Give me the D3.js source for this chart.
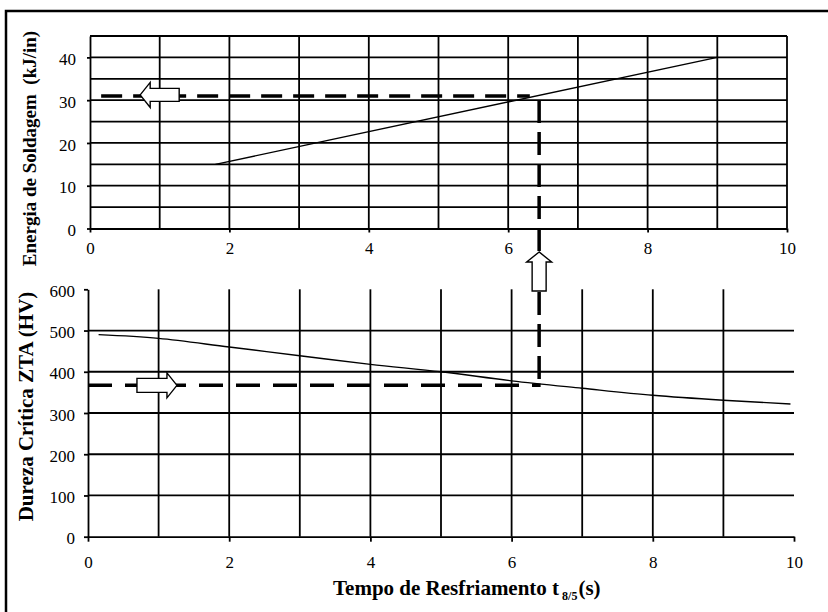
<!DOCTYPE html>
<html>
<head>
<meta charset="utf-8">
<script src="https://cdn.jsdelivr.net/npm/d3@7"></script>
<style>
  html, body { margin: 0; padding: 0; background: #fff; }
  svg { display: block; }
  text { font-family: "Liberation Serif", "Times New Roman", serif; fill: #000; }
</style>
</head>
<body>
<script>
// ---------- data ----------
const xTickValues = [0, 2, 4, 6, 8, 10];
const xGridValues = [1, 2, 3, 4, 5, 6, 7, 8, 9, 10];
const energyTicks = [0, 10, 20, 30, 40];
const energyGrid = [5, 10, 15, 20, 25, 30, 35, 40, 45];
const hardnessTicks = [0, 100, 200, 300, 400, 500, 600];
const hardnessGrid = [100, 200, 300, 400, 500];

// Energia de Soldagem vs tempo (straight line)
const energyTime = [1.8, 9];
const energyValue = [15, 40];

// Dureza crítica vs tempo
const hardnessTime = [0.15, 1, 2, 3, 4, 5, 6, 7, 8, 9, 9.95];
const hardnessValue = [490, 481, 460, 439, 418, 400, 378, 360, 343, 331, 322];

// guide (dashed) lines
const guideEnergy = 31;
const guideHardness = 367;
const guideTime = 6.39;
const guideTopStart = 0.16;
const guideTopEnd = 6.31;

const W = 828, H = 612;
const svg = d3.select("body").append("svg").attr("width", W).attr("height", H);

// outer frame (only top and left visible)
svg.append("path").attr("d", `M6,${H + 5} V11 H${W + 5}`)
  .attr("fill", "none").attr("stroke", "#000").attr("stroke-width", 2.5);

// ---------- scales ----------
const xTop = d3.scaleLinear().domain([0, 10]).range([90, 787]);
const yTop = d3.scaleLinear().domain([0, 45]).range([228.5, 36]);
const xBot = d3.scaleLinear().domain([0, 10]).range([88, 794]);
const yBot = d3.scaleLinear().domain([0, 600]).range([536.7, 289.3]);

const gridW = 1.8;

// ---------- top chart ----------
const gTop = svg.append("g");
gTop.selectAll("line.hg").data(energyGrid).join("line")
  .attr("x1", xTop(0)).attr("x2", xTop(10))
  .attr("y1", d => yTop(d)).attr("y2", d => yTop(d))
  .attr("stroke", "#000").attr("stroke-width", gridW);
gTop.selectAll("line.vg").data(xGridValues).join("line")
  .attr("x1", d => xTop(d)).attr("x2", d => xTop(d))
  .attr("y1", yTop(0)).attr("y2", yTop(45))
  .attr("stroke", "#000").attr("stroke-width", gridW);

const axTopY = gTop.append("g").attr("transform", `translate(${xTop(0)},0)`)
  .call(d3.axisLeft(yTop).tickValues(energyTicks).tickSize(3).tickPadding(11).tickSizeOuter(0));
const axTopX = gTop.append("g").attr("transform", `translate(0,${yTop(0)})`)
  .call(d3.axisBottom(xTop).tickValues(xTickValues).tickSize(4).tickPadding(9.5).tickSizeOuter(0));

// ---------- bottom chart ----------
const gBot = svg.append("g");
gBot.selectAll("line.hg").data(hardnessGrid).join("line")
  .attr("x1", xBot(0)).attr("x2", xBot(10))
  .attr("y1", d => yBot(d)).attr("y2", d => yBot(d))
  .attr("stroke", "#000").attr("stroke-width", gridW);
gBot.selectAll("line.vg").data(xGridValues.filter(d => d < 10)).join("line")
  .attr("x1", d => xBot(d)).attr("x2", d => xBot(d))
  .attr("y1", yBot(0)).attr("y2", yBot(600))
  .attr("stroke", "#000").attr("stroke-width", gridW);

const axBotY = gBot.append("g").attr("transform", `translate(${xBot(0)},0)`)
  .call(d3.axisLeft(yBot).tickValues(hardnessTicks).tickSize(4).tickPadding(9).tickSizeOuter(0));
const axBotX = gBot.append("g").attr("transform", `translate(0,${yBot(0)})`)
  .call(d3.axisBottom(xBot).tickValues(xTickValues).tickSize(5).tickPadding(14).tickSizeOuter(0));

[axTopY, axTopX, axBotY, axBotX].forEach(a => {
  a.attr("font-family", null);
  a.select(".domain").attr("stroke", "#000").attr("stroke-width", gridW);
  a.selectAll(".tick line").attr("stroke", "#000").attr("stroke-width", gridW);
  a.selectAll(".tick text").style("font-family", "'Liberation Serif', serif")
    .attr("font-size", 17).attr("fill", "#000");
});
[axTopY, axBotY].forEach(a => a.selectAll(".tick text").attr("dy", "0.42em"));

// ---------- curves ----------
const energyPts = energyTime.map((t, i) => [t, energyValue[i]]);
svg.append("path").datum(energyPts)
  .attr("d", d3.line().x(d => xTop(d[0])).y(d => yTop(d[1])))
  .attr("fill", "none").attr("stroke", "#000").attr("stroke-width", 1.4);

const hardPts = hardnessTime.map((t, i) => [t, hardnessValue[i]]);
svg.append("path").datum(hardPts)
  .attr("d", d3.line().curve(d3.curveCatmullRom.alpha(0.5)).x(d => xBot(d[0])).y(d => yBot(d[1])))
  .attr("fill", "none").attr("stroke", "#000").attr("stroke-width", 1.4);

// ---------- dashed guides ----------
const dashW = 3.5;
svg.append("line")
  .attr("x1", xTop(guideTopStart)).attr("x2", xTop(guideTopEnd))
  .attr("y1", yTop(guideEnergy)).attr("y2", yTop(guideEnergy))
  .attr("stroke", "#000").attr("stroke-width", dashW).attr("stroke-dasharray", "21,11");
svg.append("line")
  .attr("x1", xBot(guideTime)).attr("x2", xBot(guideTime))
  .attr("y1", yTop(guideEnergy) + 4).attr("y2", yBot(guideHardness))
  .attr("stroke", "#000").attr("stroke-width", dashW).attr("stroke-dasharray", "23,9");
svg.append("line")
  .attr("x1", xBot(0)).attr("x2", xBot(guideTime) + 1.5)
  .attr("y1", yBot(guideHardness)).attr("y2", yBot(guideHardness))
  .attr("stroke", "#000").attr("stroke-width", dashW).attr("stroke-dasharray", "24,13");

// ---------- hollow arrows ----------
function arrowPath(len, headLen, headHalf, shaftHalf) {
  // pointing in +x direction, tip at origin
  return `M0,0 L${-headLen},${-headHalf} L${-headLen},${-shaftHalf} L${-len},${-shaftHalf}
          L${-len},${shaftHalf} L${-headLen},${shaftHalf} L${-headLen},${headHalf} Z`;
}
const arrowStyle = s => s.attr("fill", "#fff").attr("stroke", "#000").attr("stroke-width", 1.4)
  .attr("stroke-linejoin", "miter");

// left-pointing arrow on energy guide
svg.append("path").attr("d", arrowPath(39, 10, 12.5, 6.5))
  .attr("transform", `translate(${xTop(0.72)},${yTop(guideEnergy) - 1}) rotate(180)`)
  .call(arrowStyle);
// right-pointing arrow on hardness guide
svg.append("path").attr("d", arrowPath(40, 10, 12.5, 7))
  .attr("transform", `translate(${xBot(1.26)},${yBot(guideHardness)})`)
  .call(arrowStyle);
// upward arrow on time guide (between charts)
svg.append("path").attr("d", arrowPath(39, 10, 12.5, 7))
  .attr("transform", `translate(${xBot(guideTime)},252) rotate(-90)`)
  .call(arrowStyle);

// ---------- titles ----------
svg.append("text")
  .attr("transform", `translate(36,${148.5}) rotate(-90)`)
  .attr("text-anchor", "middle").attr("font-weight", "bold").attr("font-size", 19)
  .style("white-space", "pre")
  .text("Energia de Soldagem  (kJ/in)");

svg.append("text")
  .attr("transform", `translate(33,${406.5}) rotate(-90)`)
  .attr("text-anchor", "middle").attr("font-weight", "bold").attr("font-size", 21)
  .text("Dureza Crítica ZTA (HV)");

const xt = svg.append("text").attr("x", 333).attr("y", 595)
  .attr("font-weight", "bold").attr("font-size", 21);
xt.append("tspan").text("Tempo de Resfriamento t");
xt.append("tspan").attr("font-size", 12).attr("dx", 3).attr("dy", 5).text("8/5");
xt.append("tspan").attr("dy", -5).attr("dx", 1).text("(s)");
</script>
</body>
</html>
